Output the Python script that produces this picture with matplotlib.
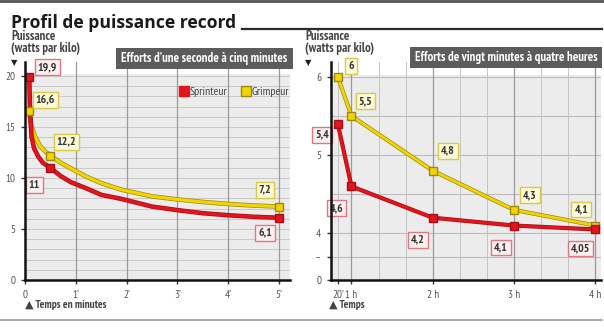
import numpy as np
import matplotlib
matplotlib.use("Agg")
import matplotlib.pyplot as plt
import matplotlib.patheffects as pe
from matplotlib import font_manager
from matplotlib.lines import Line2D
from matplotlib.patches import Rectangle

# ---- data: left panel (minutes) ----
sprint_t = [5/60, 0.1, 0.13, 0.18, 0.26, 0.35, 0.5, 0.7, 0.9, 1.2, 1.5, 1.9, 2.5, 3.0, 3.5, 4.0, 4.5, 5.0]
sprint_v = [19.9, 16.5, 14.0, 12.9, 12.1, 11.5, 11.0, 10.2, 9.6, 9.0, 8.35, 7.95, 7.2, 6.85, 6.55, 6.35, 6.2, 6.1]
climb_t = [5/60, 0.12, 0.2, 0.3, 0.4, 0.5, 0.7, 0.9, 1.2, 1.5, 1.9, 2.5, 3.0, 3.5, 4.0, 4.5, 5.0]
climb_v = [16.6, 15.2, 14.05, 13.1, 12.6, 12.2, 11.5, 10.95, 10.15, 9.5, 8.85, 8.2, 7.9, 7.65, 7.45, 7.3, 7.2]
key_t = [5/60, 0.5, 5.0]
sprint_key = [19.9, 11.0, 6.1]
climb_key = [16.6, 12.2, 7.2]
sprint_key_lbl = ["19,9", "11", "6,1"]
climb_key_lbl = ["16,6", "12,2", "7,2"]

# ---- data: right panel (hours) ----
long_t = [1/3, 1, 2, 3, 4]
sprint_long = [5.4, 4.6, 4.2, 4.1, 4.05]
climb_long = [6.0, 5.5, 4.8, 4.3, 4.1]
sprint_long_lbl = ["5,4", "4,6", "4,2", "4,1", "4,05"]
climb_long_lbl = ["6", "5,5", "4,8", "4,3", "4,1"]

RED = "#e2141e"
RED_EDGE = "#a80d14"
YEL = "#f2d400"
YEL_EDGE = "#9c8a10"
BG = "#ececec"

_have = {f.name for f in font_manager.fontManager.ttflist}


def pick(cands):
    for c in cands:
        if c in _have:
            return [c, "DejaVu Sans"]
    return ["DejaVu Sans"]


NARROW = pick(["PT Sans Narrow", "Roboto Condensed", "Fira Sans Condensed",
               "Archivo Narrow", "Liberation Sans Narrow", "Open Sans Condensed",
               "Liberation Sans"])
TITLE = pick(["Open Sans", "Liberation Sans"])

W, H = 604, 327
fig = plt.figure(figsize=(W/100, H/100), dpi=100)


def fxp(px):
    return px / W


def fyp(py):
    return 1 - py / H


# broken scales for the right panel
def fwd_y(v):
    v = np.asarray(v, dtype=float)
    return np.where(v >= 4, v, 3.404 + v * 0.149)


def inv_y(u):
    u = np.asarray(u, dtype=float)
    return np.where(u >= 4, u, (u - 3.404) / 0.149)


def fwd_x(t):
    t = np.asarray(t, dtype=float)
    return np.where(t >= 1, t, 1 - (1 - t) * 0.252)


def inv_x(u):
    u = np.asarray(u, dtype=float)
    return np.where(u >= 1, u, 1 - (1 - u) / 0.252)


def styled_line(ax, x, y, col, edge, lw=2.3):
    ax.plot(x, y, color=col, lw=lw, solid_capstyle="round", zorder=4,
            path_effects=[pe.Stroke(linewidth=lw + 1.0, foreground=edge), pe.Normal()])


def tag(ax, x, y, s, off, kind):
    fc, ec = ("#fdf0f0", "#e07884") if kind == "r" else ("#fffbd8", "#d9c84a")
    ax.annotate(s, (x, y), xytext=off, textcoords="offset pixels",
                ha="center", va="center", fontsize=8.5, fontweight="bold",
                color="#333333", family=NARROW, zorder=6,
                bbox=dict(boxstyle="square,pad=0.25", fc=fc, ec=ec, lw=1.0))


# ---------------- left panel ----------------
ax1 = fig.add_axes([fxp(25), fyp(280), 265 / W, 218 / H])
ax1.set_facecolor("none")
ax1.set_xlim(0, 265 / 50.8)
ax1.set_ylim(0, 218 / 10.2)
ax1.axhspan(0, 20.2, color=BG, zorder=0, lw=0)
for yy in range(1, 21):
    ax1.axhline(yy, color="#c9c9c9", lw=0.7, zorder=1)
for xx in range(1, 6):
    ax1.axvline(xx, color="#9a9a9a", lw=0.9, zorder=1)

styled_line(ax1, climb_t, climb_v, YEL, YEL_EDGE)
styled_line(ax1, sprint_t, sprint_v, RED, RED_EDGE)
ax1.plot(key_t, climb_key, ls="none", marker="s", ms=6, mfc=YEL, mec=YEL_EDGE, zorder=5)
ax1.plot(key_t, sprint_key, ls="none", marker="s", ms=6, mfc=RED, mec=RED_EDGE, zorder=5)

for t, v, s, off in zip(key_t, sprint_key, sprint_key_lbl, [(18, 10), (-16, -17), (-14, -15)]):
    tag(ax1, t, v, s, off, "r")
for t, v, s, off in zip(key_t, climb_key, climb_key_lbl, [(16, 11), (16, 14), (-14, 17)]):
    tag(ax1, t, v, s, off, "y")

ax1.set_xticks(range(6))
ax1.set_xticklabels(["0", "1’", "2’", "3’", "4’", "5’"])
ax1.set_yticks([0, 5, 10, 15, 20])

legend_handles = [
    Line2D([], [], ls="none", marker="s", ms=6.5, mfc=RED, mec=RED, label="Sprinteur"),
    Line2D([], [], ls="none", marker="s", ms=6.5, mfc=YEL, mec=YEL_EDGE, label="Grimpeur"),
]
leg = ax1.legend(handles=legend_handles, ncol=2, frameon=False, loc="center",
                 bbox_to_anchor=(fxp(235), fyp(92)), bbox_transform=fig.transFigure,
                 handlelength=0.6, handletextpad=0.15, columnspacing=1.3,
                 prop={"family": NARROW, "size": 8.5})
for txt in leg.get_texts():
    txt.set_color("#444444")

# ---------------- right panel ----------------
ax2 = fig.add_axes([fxp(331), fyp(280), 270 / W, 218 / H])
ax2.set_facecolor("none")
ax2.set_xscale("function", functions=(fwd_x, inv_x))
ax2.set_yscale("function", functions=(fwd_y, inv_y))
ax2.set_xlim(0, 4.07)
ax2.set_ylim(0, 6.19)
ax2.axhspan(0, 6.03, color=BG, zorder=0, lw=0)
for yy in [2, 4, 4.5, 5, 5.5, 6]:
    ax2.axhline(yy, color="#bcbcbc", lw=0.8, zorder=1)
for k in [1] + list(range(3, 13)):
    xx = k / 3
    ax2.axvline(xx, color="#9a9a9a" if k % 3 == 0 else "#c4c4c4",
                lw=0.9 if k % 3 == 0 else 0.7, zorder=1)

styled_line(ax2, long_t, climb_long, YEL, YEL_EDGE, lw=2.0)
styled_line(ax2, long_t, sprint_long, RED, RED_EDGE, lw=2.0)
ax2.plot(long_t, climb_long, ls="none", marker="s", ms=6, mfc=YEL, mec=YEL_EDGE, zorder=5)
ax2.plot(long_t, sprint_long, ls="none", marker="s", ms=6, mfc=RED, mec=RED_EDGE, zorder=5)

for t, v, s, off in zip(long_t, sprint_long, sprint_long_lbl,
                        [(-16, -11), (-15, -22), (-15, -22), (-13, -22), (-15, -19)]):
    tag(ax2, t, v, s, off, "r")
for t, v, s, off in zip(long_t, climb_long, climb_long_lbl,
                        [(13, 11), (14, 15), (15, 20), (16, 15), (-14, 16)]):
    tag(ax2, t, v, s, off, "y")

ax2.set_xticks(long_t)
ax2.set_xticklabels(["20’", "1 h", "2 h", "3 h", "4 h"])
ax2.set_yticks([0, 2, 4, 5, 6])
ax2.set_yticklabels(["0", "–", "4", "5", "6"])
ax2.minorticks_off()

for ax in (ax1, ax2):
    for side in ("top", "right"):
        ax.spines[side].set_visible(False)
    for side in ("left", "bottom"):
        ax.spines[side].set_color("#111111")
        ax.spines[side].set_linewidth(1.8)
        ax.spines[side].set_zorder(7)
    ax.tick_params(axis="both", length=3, width=1, color="#333333", labelsize=8,
                   labelcolor="#555555", pad=4)
    for lab in ax.get_xticklabels() + ax.get_yticklabels():
        lab.set_family(NARROW)

# ---------------- frame texts ----------------
fig.add_artist(Line2D([0, 1], [fyp(1), fyp(1)], color="#555555", lw=2.0))
fig.text(fxp(11), fyp(27.5), "Profil de puissance record", fontsize=12.6, fontweight="bold",
         color="#1a1a1a", family=TITLE, va="baseline")
fig.add_artist(Line2D([fxp(242), fxp(602)], [fyp(29), fyp(29)], color="#2a2a2a", lw=1.6))
fig.add_artist(Line2D([0, fxp(602)], [fyp(320), fyp(320)], color="#999999", lw=1.2))

for x0 in (11, 305):
    fig.text(fxp(x0), fyp(36.5), "Puissance", fontsize=9.2, fontweight="bold",
             color="#444444", family=NARROW, va="center")
    fig.text(fxp(x0), fyp(48.5), "(watts par kilo)", fontsize=9.2, fontweight="bold",
             color="#444444", family=NARROW, va="center")
fig.text(fxp(14), fyp(63), "▼", fontsize=6, color="#222222", ha="center", va="center",
         family="DejaVu Sans")
fig.text(fxp(308), fyp(63), "▼", fontsize=6, color="#222222", ha="center", va="center",
         family="DejaVu Sans")

fig.text(fxp(25), fyp(305), "▲ Temps en minutes", fontsize=8, fontweight="bold",
         color="#444444", family=NARROW, va="center")
fig.text(fxp(329), fyp(305), "▲ Temps", fontsize=8, fontweight="bold",
         color="#444444", family=NARROW, va="center")

for x0, x1, y0, y1, s in [(116, 293, 48, 69, "Efforts d’une seconde à cinq minutes"),
                          (410, 602, 47, 68, "Efforts de vingt minutes à quatre heures")]:
    fig.add_artist(Rectangle((fxp(x0), fyp(y1)), (x1 - x0) / W, (y1 - y0) / H,
                             transform=fig.transFigure, fc="#5c5c5c", ec="none", zorder=8))
    fig.text(fxp((x0 + x1) / 2), fyp((y0 + y1) / 2), s, fontsize=9.2, fontweight="bold",
             color="white", family=NARROW, ha="center", va="center", zorder=9)

fig.savefig("out.png", dpi=100)
